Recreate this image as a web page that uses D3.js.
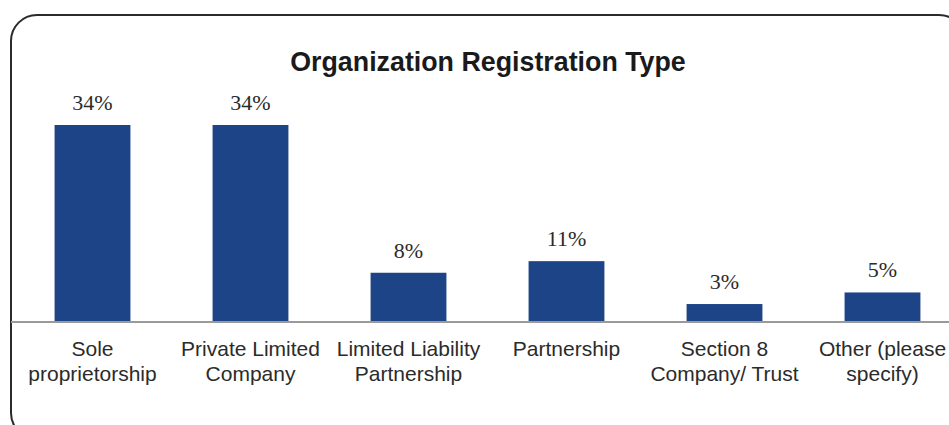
<!DOCTYPE html>
<html>
<head>
<meta charset="utf-8">
<script src="https://cdn.jsdelivr.net/npm/d3@7"></script>
<style>
  body { margin: 0; background: #fff; }
  svg { display: block; }
</style>
</head>
<body>
<div id="chart"></div>
<script>
// chart data
var categories = [
  ["Sole", "proprietorship"],
  ["Private Limited", "Company"],
  ["Limited Liability", "Partnership"],
  ["Partnership"],
  ["Section 8", "Company/ Trust"],
  ["Other (please", "specify)"]
];
var values = [34, 34, 8.5, 10.5, 3.1, 5.1];
var valueLabels = ["34%", "34%", "8%", "11%", "3%", "5%"];

var svgWidth = 949;
var svgHeight = 425;
var baseY = 322;

var svg = d3.select("#chart")
  .append("svg")
  .attr("width", svgWidth)
  .attr("height", svgHeight);

// rounded frame around the chart
svg.append("rect")
  .attr("x", 11)
  .attr("y", 15)
  .attr("width", 954)
  .attr("height", 424)
  .attr("rx", 26)
  .attr("fill", "none")
  .attr("stroke", "#2b2b2b")
  .attr("stroke-width", 2);

// title
svg.append("text")
  .attr("x", 488)
  .attr("y", 71)
  .attr("text-anchor", "middle")
  .style("font-family", "'Liberation Sans', Arial, sans-serif")
  .style("font-weight", "bold")
  .style("font-size", "26.8px")
  .style("fill", "#1a1a1a")
  .text("Organization Registration Type");

var idx = d3.range(categories.length);

var xScale = d3.scaleBand()
  .domain(idx)
  .range([13.5, 961.5])
  .paddingInner(0.52)
  .paddingOuter(0.26);

var yScale = d3.scaleLinear()
  .domain([0, 34])
  .range([baseY, 125]);

// bars
svg.selectAll("rect.bar")
  .data(values)
  .enter()
  .append("rect")
  .attr("class", "bar")
  .attr("x", (d, i) => xScale(i))
  .attr("y", d => yScale(d))
  .attr("width", xScale.bandwidth())
  .attr("height", d => baseY - yScale(d))
  .attr("fill", "#1d4486");

// value labels
svg.selectAll("text.val")
  .data(values)
  .enter()
  .append("text")
  .attr("class", "val")
  .attr("x", (d, i) => xScale(i) + xScale.bandwidth() / 2)
  .attr("y", d => yScale(d) - 15)
  .attr("text-anchor", "middle")
  .style("font-family", "'Liberation Serif', 'DejaVu Serif', serif")
  .style("font-size", "22px")
  .style("fill", "#2b2b2b")
  .text((d, i) => valueLabels[i]);

// baseline axis
var bottomAxis = d3.axisBottom(xScale).tickSize(0).tickFormat("");
var axisG = svg.append("g")
  .attr("transform", `translate(0, ${baseY})`)
  .call(bottomAxis);
axisG.select(".domain").remove();
axisG.append("line")
  .attr("x1", 11)
  .attr("x2", svgWidth)
  .attr("y1", 0)
  .attr("y2", 0)
  .attr("stroke", "#9a9a9a")
  .attr("stroke-width", 2);

// category labels, two lines each
var catText = svg.selectAll("text.cat")
  .data(categories)
  .enter()
  .append("text")
  .attr("class", "cat")
  .attr("text-anchor", "middle")
  .style("font-family", "'Liberation Sans', Arial, sans-serif")
  .style("font-size", "21px")
  .style("fill", "#2b2b2b");

catText.selectAll("tspan")
  .data((d, i) => d.map(t => ({ t: t, i: i })))
  .enter()
  .append("tspan")
  .attr("x", d => xScale(d.i) + xScale.bandwidth() / 2)
  .attr("y", (d, j) => 356 + j * 25)
  .text(d => d.t);
</script>
</body>
</html>
